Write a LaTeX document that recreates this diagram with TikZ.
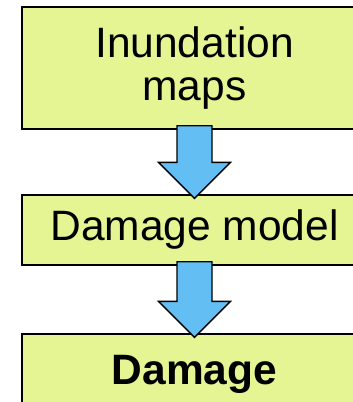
\documentclass[tikz,border=0pt]{standalone}
\usepackage{fontspec}
\setmainfont{Liberation Sans}
\usetikzlibrary{calc}
\definecolor{boxfill}{RGB}{230,245,148}
\definecolor{flowfill}{RGB}{99,190,244}

\begin{document}
\begin{tikzpicture}[x=1pt, y=1pt,
	stage/.style={draw, line width=1.3pt, fill=boxfill, minimum width=345pt, inner sep=0pt, align=center, font=\fontsize{42.5}{43}\selectfont},
	flow/.style={draw, line width=1.3pt, fill=flowfill, line join=miter}]
		\useasboundingbox (0,0) rectangle (353,-402);
		\node[stage, minimum height=122pt] (maps) at (194.5, -68) {Inundation\\maps};
		\node[stage, minimum height=70pt] (model) at (194.5, -230) {Damage model};
		\node[stage, minimum height=80pt] (damage) at (194.5, -374) {\textbf{Damage}};
		
		\foreach \a/\b in {maps/model, model/damage}
			\draw[flow] ($(\a.south)+(-17.5,4)$) -- ($(\a.south)+(17.5,4)$)
				-- ($(\b.north)+(17.5,32)$) -- ($(\b.north)+(36,32)$)
				-- ($(\b.north)+(0,-4)$)
				-- ($(\b.north)+(-36,32)$) -- ($(\b.north)+(-17.5,32)$) -- cycle;
	\end{tikzpicture}
\end{document}
